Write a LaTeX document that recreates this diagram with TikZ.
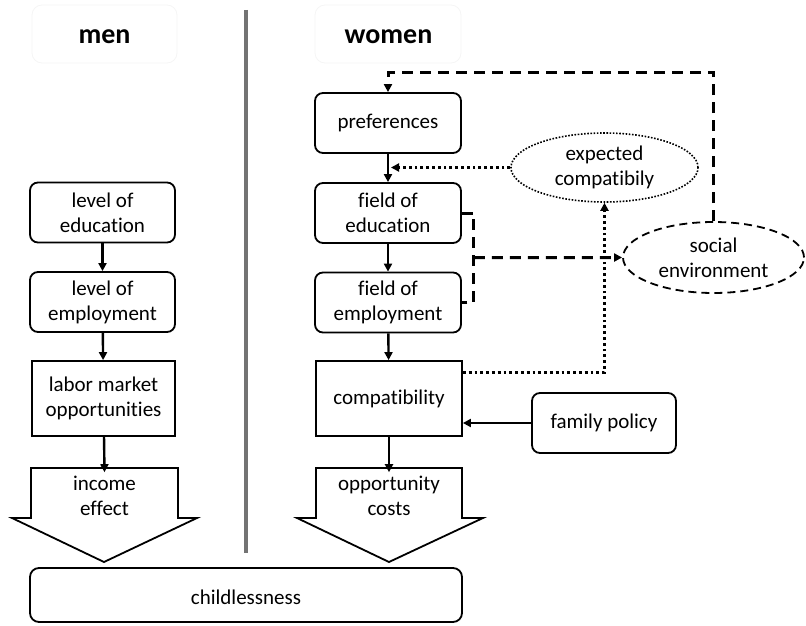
\documentclass[tikz,border=0pt]{standalone}
\usepackage{fontspec}
\setmainfont{Carlito}[Ligatures={TeX,NoCommon}]
\usetikzlibrary{shapes.geometric,arrows.meta,calc}
\begin{document}
\begin{tikzpicture}[x=1pt,y=-1pt,
  every node/.style={font=\fontsize{21}{25}\selectfont, align=center, inner sep=0pt},
  rbox/.style={draw, line width=1.8pt, rounded corners=8pt, minimum width=145pt, minimum height=60pt},
  sbox/.style={draw, line width=1.8pt, minimum width=145pt, minimum height=75pt},
  title/.style={font=\fontsize{28}{32}\selectfont\bfseries},
  faint/.style={draw=black!4, line width=0.8pt, rounded corners=10pt},
  bigarrow/.style={draw, line width=1.8pt, line join=miter},
  arr/.style={line width=2.4pt, -{Triangle[length=8pt,width=8pt]}},
  dasharr/.style={line width=3pt, dash pattern=on 11pt off 7pt, -{Triangle[length=8pt,width=8pt]}},
  dashln/.style={line width=3pt, dash pattern=on 11pt off 7pt},
  dotarr/.style={line width=2.8pt, dash pattern=on 2.8pt off 3pt, -{Triangle[length=8pt,width=8pt]}},
  dotell/.style={draw, ellipse, line width=1.6pt, dash pattern=on 1.6pt off 1.6pt},
  dashell/.style={draw, ellipse, line width=1.8pt, dash pattern=on 8pt off 5pt},
  sep/.style={line width=3.4pt, draw={rgb,255:red,115;green,115;blue,115}}
]
\useasboundingbox (0,0) rectangle (806,626);

% faint title frames and titles
\draw[faint] (32,5) rectangle (177,63);
\draw[faint] (315,5) rectangle (461,63);
\node[title] (tmen) at (104.5,37) {men};
\node[title] (twomen) at (388.5,37) {women};

% separator
\coordinate (septop) at (246,10);
\coordinate (sepbot) at (246,553);
\draw[sep] (septop) -- (sepbot);

% men column
\node[rbox] (edum) at (102.5,212.5) {level of\\education};
\node[rbox] (empm) at (102.5,302) {level of\\employment};
\node[sbox, minimum width=143pt] (lab) at (103.5,398.5) {labor market\\opportunities};
\draw[bigarrow] (31,468) -- (178,468) -- (178,518) -- (197,518) -- (104,562) -- (12,518) -- (31,518) -- cycle;
\node[minimum width=147pt, minimum height=50pt] (inc) at (104.5,496) {income\\effect};

% women column
\node[rbox, minimum width=146pt] (pref) at (388,123) {preferences};
\node[rbox, minimum width=146pt] (fedu) at (388,213) {field of\\education};
\node[rbox, minimum width=146pt] (femp) at (388,302.5) {field of\\employment};
\node[sbox, minimum width=146pt] (comp) at (389,398.5) {compatibility};
\draw[bigarrow] (316,468) -- (462,468) -- (462,518) -- (483,518) -- (389,562) -- (297,518) -- (316,518) -- cycle;
\node[minimum width=146pt, minimum height=50pt] (opp) at (389,496) {opportunity\\costs};

% bottom
\node[draw, line width=1.8pt, rounded corners=9pt, minimum width=432pt, minimum height=54pt] (child) at (246,595) {};
\node (childt) at (246,597) {childlessness};

% right side
\node[rbox, minimum width=144pt] (fam) at (604,423) {family policy};
\node[dotell, minimum width=187pt, minimum height=69pt] (exp) at (604.5,167.5) {expected\\compatibily};
\node[dashell, minimum width=181pt, minimum height=71pt] (soc) at (713.5,257.5) {social\\environment};

% solid arrows
\draw[arr] (edum) -- (empm);
\draw[arr] (empm) -- (lab);
\draw[arr] (lab) -- ([yshift=-1.4pt]inc.north);
\draw[arr] (pref) -- (fedu);
\draw[arr] (fedu) -- (femp);
\draw[arr] (femp) -- (comp);
\draw[arr] (comp) -- ([yshift=-1.4pt]opp.north);
\draw[arr] (fam.west) -- (comp.east |- fam.west);

% dotted connections
\draw[dotarr] (exp.west) -- ([xshift=3pt]pref.south |- exp.west);
\draw[dotarr] ([yshift=-12pt]comp.north east) -| (exp.south);

% dashed bracket and connections
\coordinate (brk) at ($($(fedu.east)!0.5!(femp.east)$)+(12,0)$);
\draw[dashln] (fedu.east) -- ++(12,0) |- (femp.east);
\draw[dasharr] (brk) -- (soc.west);
\draw[dasharr] (soc.north) |- ([yshift=20pt]pref.north) -- (pref.north);
\end{tikzpicture}
\end{document}
